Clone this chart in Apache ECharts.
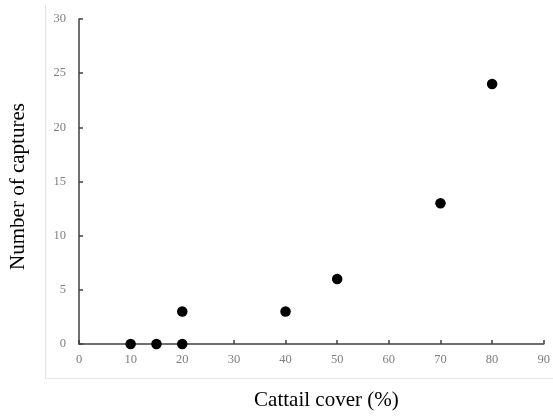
<!DOCTYPE html>
<html><head><meta charset="utf-8">
<script src="https://cdn.jsdelivr.net/npm/echarts@6/dist/echarts.min.js"></script>
<style>html,body{margin:0;padding:0;background:#fff}#c{width:553px;height:416px}</style>
</head><body><div id="c"></div>
<script>
const cattailCover = [10, 15, 20, 20, 40, 50, 70, 80];
const captures = [0, 0, 0, 3, 3, 6, 13, 24];
const xName = 'Cattail cover (%)';
const yName = 'Number of captures';

const chart = echarts.init(document.getElementById('c'), null, {renderer: 'canvas'});
const serif = '"Liberation Serif", "Times New Roman", serif';
chart.setOption({
  animation: false,
  backgroundColor: '#fff',
  grid: {left: 78, right: 8, top: 19, bottom: 69},
  graphic: [
    {type: 'line', shape: {x1: 45.5, y1: 5, x2: 45.5, y2: 378.5}, style: {stroke: '#e3e3e3', lineWidth: 1}},
    {type: 'line', shape: {x1: 45.5, y1: 378.5, x2: 553, y2: 378.5}, style: {stroke: '#e3e3e3', lineWidth: 1}}
  ],
  xAxis: {
    type: 'value', min: 0, max: 90, interval: 10,
    name: xName, nameLocation: 'middle', nameGap: 46,
    nameTextStyle: {fontFamily: serif, fontSize: 21, color: '#000', padding: [0, 0, 0, 30]},
    axisLine: {show: true, onZero: false, lineStyle: {color: '#404040', width: 1.5}},
    axisTick: {show: true, inside: true, length: 4, lineStyle: {color: '#404040', width: 1.5}},
    axisLabel: {fontFamily: serif, fontSize: 12.5, color: '#7f7f7f', margin: 9},
    splitLine: {show: false}
  },
  yAxis: {
    type: 'value', min: 0, max: 30, interval: 5,
    name: yName, nameLocation: 'middle', nameGap: 50, nameRotate: 90,
    nameTextStyle: {fontFamily: serif, fontSize: 21, color: '#000', padding: [0, 10, 0, 0]},
    axisLine: {show: true, lineStyle: {color: '#404040', width: 1.5}},
    axisTick: {show: true, inside: true, length: 4, lineStyle: {color: '#404040', width: 1.5}},
    axisLabel: {fontFamily: serif, fontSize: 12.5, color: '#7f7f7f', margin: 13},
    splitLine: {show: false}
  },
  series: [{
    type: 'scatter',
    data: cattailCover.map((x, i) => [x, captures[i]]),
    symbol: 'circle', symbolSize: 10.5,
    itemStyle: {color: '#000', opacity: 1}
  }]
});
</script></body></html>
